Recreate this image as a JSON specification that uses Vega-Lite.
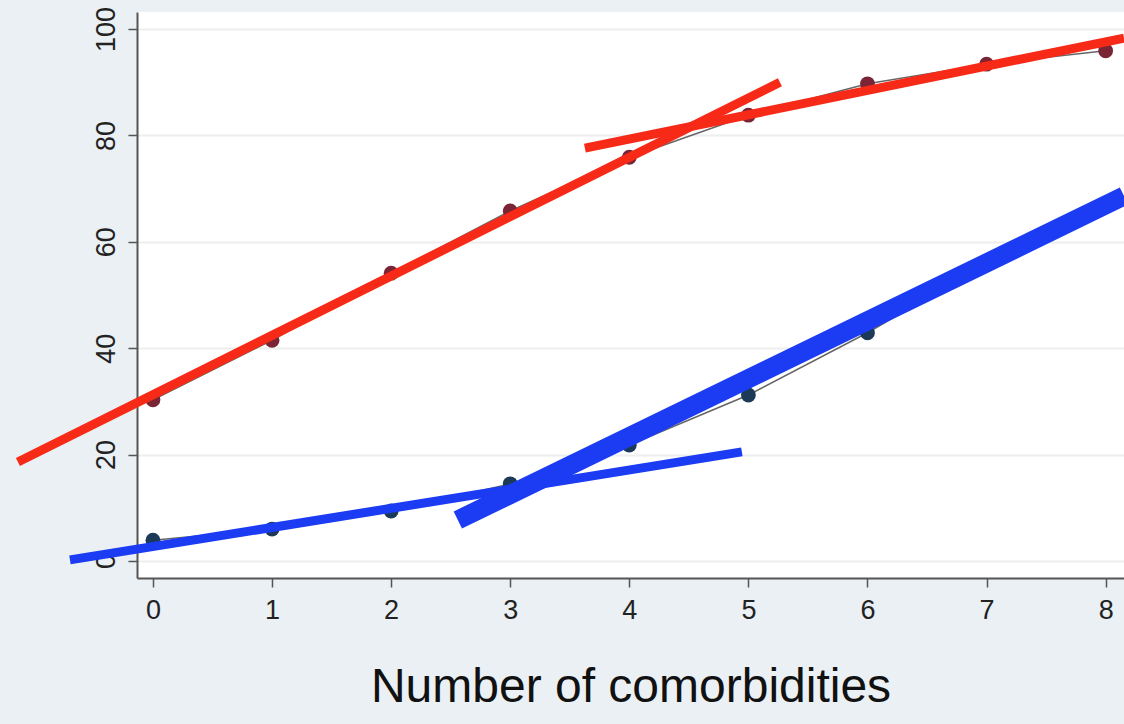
{
  "$schema": "https://vega.github.io/schema/vega-lite/v6.json",
  "autosize": {"type": "none"},
  "width": 987,
  "height": 566,
  "padding": {"left": 137, "top": 12, "right": 0, "bottom": 146},
  "background": "#EAF0F3",
  "config": {
    "view": {"fill": "white", "stroke": null},
    "font": "Liberation Sans",
    "axis": {
      "domainColor": "#555555",
      "domainWidth": 2,
      "tickColor": "#555555",
      "tickWidth": 1.5,
      "tickSize": 9,
      "labelColor": "#222222",
      "labelFont": "Liberation Sans",
      "labelFontSize": 27,
      "titleFont": "Liberation Sans",
      "titleColor": "#111111"
    }
  },
  "datasets": {
    "obs": [
      {"group": "A", "x": 0, "y": 30.3},
      {"group": "A", "x": 1, "y": 41.5},
      {"group": "A", "x": 2, "y": 54.1},
      {"group": "A", "x": 3, "y": 65.8},
      {"group": "A", "x": 4, "y": 75.9},
      {"group": "A", "x": 5, "y": 83.8},
      {"group": "A", "x": 6, "y": 89.7},
      {"group": "A", "x": 7, "y": 93.4},
      {"group": "A", "x": 8, "y": 95.9},
      {"group": "B", "x": 0, "y": 3.9},
      {"group": "B", "x": 1, "y": 6.0},
      {"group": "B", "x": 2, "y": 9.4},
      {"group": "B", "x": 3, "y": 14.5},
      {"group": "B", "x": 4, "y": 21.8},
      {"group": "B", "x": 5, "y": 31.2},
      {"group": "B", "x": 6, "y": 42.9},
      {"group": "B", "x": 7, "y": 56.0},
      {"group": "B", "x": 8, "y": 66.9}
    ],
    "fits": [
      {"seg": "red1", "x": -1.134, "y": 18.6},
      {"seg": "red1", "x": 5.265, "y": 90.0},
      {"seg": "red2", "x": 3.627, "y": 77.6},
      {"seg": "red2", "x": 8.154, "y": 98.3},
      {"seg": "blue1", "x": -0.697, "y": 0.2},
      {"seg": "blue1", "x": 4.945, "y": 20.5}
    ],
    "thick": [
      {"seg": "blue2", "x": 2.56, "y": 7.7},
      {"seg": "blue2", "x": 8.154, "y": 68.6}
    ]
  },
  "resolve": {"scale": {"color": "independent"}},
  "encoding": {
    "x": {
      "field": "x",
      "type": "quantitative",
      "scale": {"domain": [-0.134, 8.154], "nice": false, "zero": false},
      "axis": {
        "values": [0, 1, 2, 3, 4, 5, 6, 7, 8],
        "grid": false,
        "title": "Number of comorbidities",
        "titleFontSize": 48,
        "titleFontWeight": "normal",
        "titlePadding": 40,
        "labelPadding": 10,
        "format": "d"
      }
    },
    "y": {
      "field": "y",
      "type": "quantitative",
      "scale": {"domain": [-3.2, 103.2], "nice": false, "zero": false},
      "axis": {
        "values": [0, 20, 40, 60, 80, 100],
        "grid": true,
        "gridColor": "#EEEEEE",
        "gridWidth": 2,
        "title": null,
        "labelAngle": -90,
        "labelAlign": "center",
        "labelBaseline": "bottom",
        "labelPadding": 8,
        "format": "d"
      }
    }
  },
  "layer": [
    {
      "data": {"name": "obs"},
      "mark": {"type": "line", "color": "#666666", "strokeWidth": 1.5, "clip": false},
      "encoding": {"detail": {"field": "group"}}
    },
    {
      "data": {"name": "obs"},
      "mark": {"type": "point", "filled": true, "opacity": 1, "size": 220, "clip": false},
      "encoding": {
        "color": {
          "field": "group",
          "type": "nominal",
          "scale": {"domain": ["A", "B"], "range": ["#7A2535", "#1C3A58"]},
          "legend": null
        }
      }
    },
    {
      "data": {"name": "fits"},
      "mark": {"type": "line", "strokeWidth": 9, "strokeCap": "butt", "clip": false},
      "encoding": {
        "detail": {"field": "seg"},
        "color": {
          "field": "seg",
          "type": "nominal",
          "scale": {"domain": ["red1", "red2", "blue1"], "range": ["#F72A18", "#F72A18", "#1B3CF2"]},
          "legend": null
        }
      }
    },
    {
      "data": {"name": "thick"},
      "mark": {"type": "line", "strokeWidth": 19, "strokeCap": "butt", "color": "#1B3CF2", "clip": false},
      "encoding": {}
    }
  ]
}
